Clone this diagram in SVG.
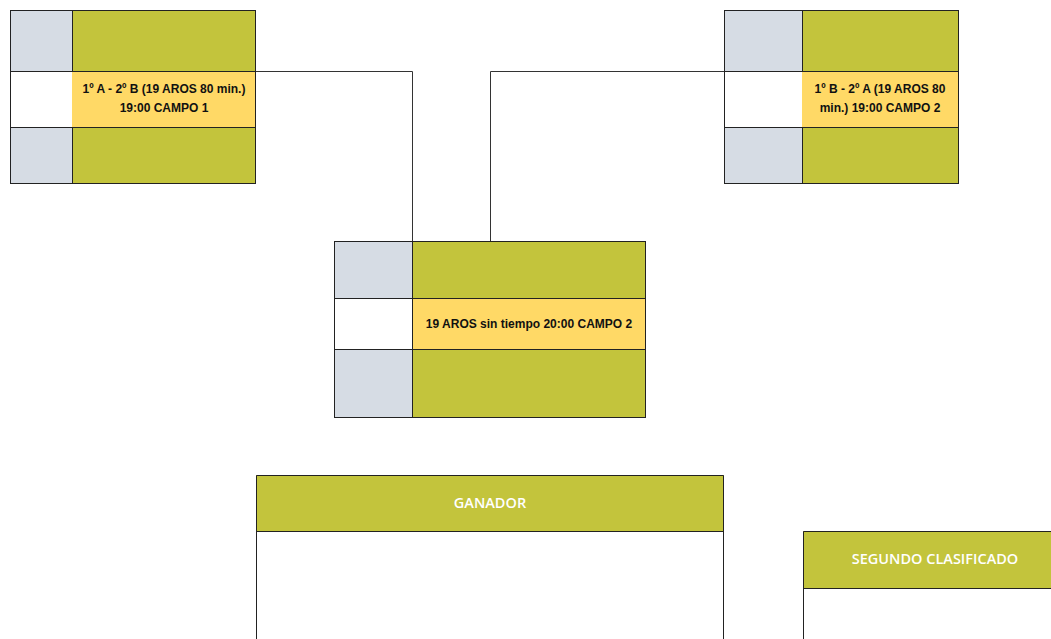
<svg xmlns="http://www.w3.org/2000/svg" width="1051" height="639" viewBox="0 0 1051 639">
<style>
.g{fill:#C3C43C}
.s{fill:#D6DCE4}
.y{fill:#FFD966}
.w{fill:#FFFFFF}
.b{fill:none;stroke:#222;stroke-width:1}
.t{font-family:"Liberation Sans",Arial,sans-serif;font-weight:bold;font-size:12px;fill:#111;text-anchor:middle}
.h{font-family:"Open Sans","Liberation Sans",sans-serif;font-weight:600;font-size:14.5px;fill:#fff;text-anchor:middle}
.c{fill:none;stroke:#333;stroke-width:1}
</style>
<rect width="1051" height="639" fill="#fff"/>
<g id="connectors">
<polyline class="c" points="256,71.5 412.5,71.5 412.5,241"/>
<polyline class="c" points="724,71.5 490.5,71.5 490.5,241"/>
</g>
<g id="match1">
<rect class="s" x="10" y="10" width="62" height="61"/>
<rect class="g" x="72" y="10" width="184" height="61"/>
<rect class="w" x="10" y="71" width="62" height="56"/>
<rect class="y" x="72" y="71" width="184" height="56"/>
<rect class="s" x="10" y="127" width="62" height="57"/>
<rect class="g" x="72" y="127" width="184" height="57"/>
<rect class="b" x="10.5" y="10.5" width="245" height="173"/>
<line class="b" x1="72.5" y1="10" x2="72.5" y2="71"/>
<line class="b" x1="72.5" y1="127" x2="72.5" y2="184"/>
<line class="b" x1="10" y1="71.5" x2="256" y2="71.5"/>
<line class="b" x1="10" y1="127.5" x2="256" y2="127.5"/>
<text class="t" x="164" y="93">1º A - 2º B (19 AROS 80 min.)</text>
<text class="t" x="164" y="112">19:00 CAMPO 1</text>
</g>
<g id="match2">
<rect class="s" x="724" y="10" width="78" height="61"/>
<rect class="g" x="802" y="10" width="157" height="61"/>
<rect class="w" x="724" y="71" width="78" height="56"/>
<rect class="y" x="802" y="71" width="157" height="56"/>
<rect class="s" x="724" y="127" width="78" height="57"/>
<rect class="g" x="802" y="127" width="157" height="57"/>
<rect class="b" x="724.5" y="10.5" width="234" height="173"/>
<line class="b" x1="802.5" y1="10" x2="802.5" y2="71"/>
<line class="b" x1="802.5" y1="127" x2="802.5" y2="184"/>
<line class="b" x1="724" y1="71.5" x2="959" y2="71.5"/>
<line class="b" x1="724" y1="127.5" x2="959" y2="127.5"/>
<text class="t" x="880" y="93">1º B - 2º A (19 AROS 80</text>
<text class="t" x="880" y="112">min.) 19:00 CAMPO 2</text>
</g>
<g id="final">
<rect class="s" x="334" y="241" width="78" height="57"/>
<rect class="g" x="412" y="241" width="234" height="57"/>
<rect class="w" x="334" y="298" width="78" height="51"/>
<rect class="y" x="412" y="298" width="234" height="51"/>
<rect class="s" x="334" y="349" width="78" height="69"/>
<rect class="g" x="412" y="349" width="234" height="69"/>
<rect class="b" x="334.5" y="241.5" width="311" height="176"/>
<line class="b" x1="412.5" y1="241" x2="412.5" y2="418"/>
<line class="b" x1="334" y1="298.5" x2="646" y2="298.5"/>
<line class="b" x1="334" y1="349.5" x2="646" y2="349.5"/>
<text class="t" x="529" y="327.5">19 AROS sin tiempo 20:00 CAMPO 2</text>
</g>
<g id="ganador">
<rect class="g" x="256" y="475" width="468" height="56"/>
<path class="b" d="M256.5,640 V475.5 H723.5 V640"/>
<line class="b" x1="256" y1="531.5" x2="724" y2="531.5"/>
<text class="h" x="490" y="507.5">GANADOR</text>
</g>
<g id="segundo">
<rect class="g" x="803" y="531" width="248" height="57"/>
<path class="b" d="M803.5,640 V531.5 H1051"/>
<line class="b" x1="803" y1="588.5" x2="1051" y2="588.5"/>
<text class="h" x="935" y="563.5">SEGUNDO CLASIFICADO</text>
</g>
</svg>
